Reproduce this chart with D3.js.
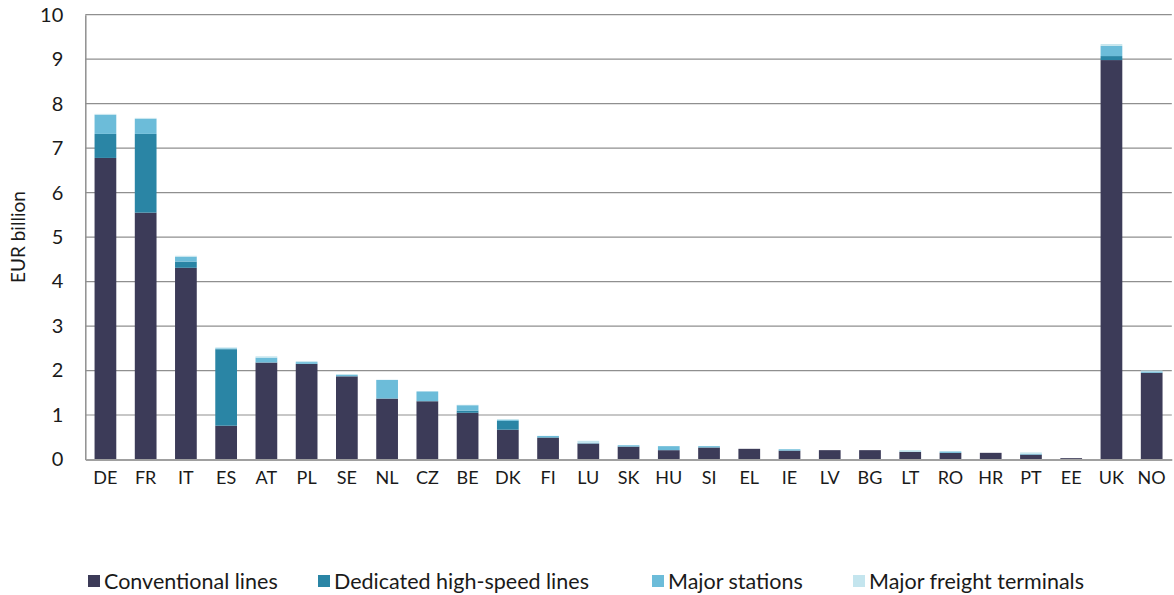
<!DOCTYPE html>
<html>
<head>
<meta charset="utf-8">
<script src="https://cdn.jsdelivr.net/npm/d3@7"></script>
<style>
  body { margin: 0; background: #fff; }
  text { font-family: Lato, "Open Sans", sans-serif; fill: #1a1a1a; }
</style>
</head>
<body>
<div id="chart"></div>
<script>
// countries, in the order of the picture
const countries = ['DE','FR','IT','ES','AT','PL','SE','NL','CZ','BE','DK','FI','LU','SK','HU','SI','EL','IE','LV','BG','LT','RO','HR','PT','EE','UK','NO'];

// EUR billion
const conventional = [6.78,5.55,4.31,0.76,2.18,2.15,1.87,1.37,1.31,1.05,0.67,0.49,0.36,0.29,0.21,0.27,0.24,0.20,0.21,0.21,0.17,0.15,0.15,0.11,0.03,8.98,1.95];
const highSpeed    = [0.54,1.77,0.14,1.72,0.00,0.00,0.00,0.00,0.00,0.05,0.20,0.01,0.00,0.00,0.00,0.00,0.00,0.00,0.00,0.00,0.00,0.00,0.00,0.00,0.00,0.09,0.00];
const stations     = [0.43,0.34,0.11,0.02,0.11,0.04,0.03,0.42,0.22,0.12,0.02,0.03,0.01,0.03,0.09,0.03,0.00,0.03,0.00,0.00,0.01,0.03,0.00,0.02,0.00,0.23,0.03];
const freight      = [0.02,0.02,0.02,0.02,0.03,0.02,0.02,0.00,0.00,0.01,0.02,0.00,0.05,0.00,0.00,0.00,0.00,0.00,0.00,0.00,0.03,0.00,0.00,0.03,0.00,0.04,0.02];

const seriesNames = ['Conventional lines','Dedicated high-speed lines','Major stations','Major freight terminals'];
const seriesKeys = ['conv','hs','st','fr'];
const colors = ['#3c3b58','#2a85a5','#6cbcd9','#c4e5ee'];
const yTicks = [0,1,2,3,4,5,6,7,8,9,10];

const W = 1174, H = 595;
const m = {left: 85.3, right: 2.2, top: 14.7, bottom: 135.5};

const rows = countries.map((c, i) => ({
  country: c, conv: conventional[i], hs: highSpeed[i], st: stations[i], fr: freight[i]
}));
const stacked = d3.stack().keys(seriesKeys)(rows);

const svg = d3.select('#chart').append('svg')
  .attr('width', W)
  .attr('height', H);

const x = d3.scaleBand().domain(countries)
  .range([m.left, W - m.right])
  .paddingInner(0.46).paddingOuter(0.23);
const y = d3.scaleLinear().domain([0, 10]).range([H - m.bottom, m.top]);

// gridlines
svg.append('g')
  .selectAll('line')
  .data(yTicks.filter(d => d > 0))
  .enter().append('line')
  .attr('x1', m.left).attr('x2', W - m.right)
  .attr('y1', d => y(d)).attr('y2', d => y(d))
  .attr('stroke', '#8f8f8f')
  .attr('stroke-width', 1.2);

// bars
svg.append('g')
  .selectAll('g')
  .data(stacked)
  .enter().append('g')
  .attr('fill', (d, i) => colors[i])
  .selectAll('rect')
  .data(d => d)
  .enter().append('rect')
  .attr('x', d => x(d.data.country))
  .attr('width', x.bandwidth())
  .attr('y', d => y(d[1]))
  .attr('height', d => y(d[0]) - y(d[1]));

// y axis
const yAxis = svg.append('g')
  .attr('transform', `translate(${m.left},0)`)
  .call(d3.axisLeft(y).tickValues(yTicks).tickSize(0).tickPadding(22).tickFormat(d3.format('d')));
yAxis.select('.domain').attr('stroke', '#8f8f8f').attr('stroke-width', 1.5);
yAxis.selectAll('text').style('font-size', '20px').attr('fill', '#1a1a1a');

// x axis
const xAxis = svg.append('g')
  .attr('transform', `translate(0,${y(0)})`)
  .call(d3.axisBottom(x).tickSize(0).tickPadding(12));
xAxis.select('.domain').attr('stroke', '#a0a0a0').attr('stroke-width', 2);
xAxis.selectAll('text').style('font-size', '18px').attr('fill', '#1a1a1a');

// y axis title
svg.append('text')
  .attr('transform', `translate(25,${(y(0) + y(10)) / 2}) rotate(-90)`)
  .attr('text-anchor', 'middle')
  .style('font-size', '19px')
  .text('EUR billion');

// legend
const legendX = [88, 318, 652, 853];
const legend = svg.append('g').attr('transform', 'translate(0,581)');
seriesNames.forEach((name, i) => {
  legend.append('rect')
    .attr('x', legendX[i]).attr('y', -6)
    .attr('width', 12).attr('height', 12)
    .attr('fill', colors[i]);
  legend.append('text')
    .attr('x', legendX[i] + 16).attr('y', 0)
    .attr('dy', '0.35em')
    .style('font-size', '21.5px')
    .text(name);
});
</script>
</body>
</html>
